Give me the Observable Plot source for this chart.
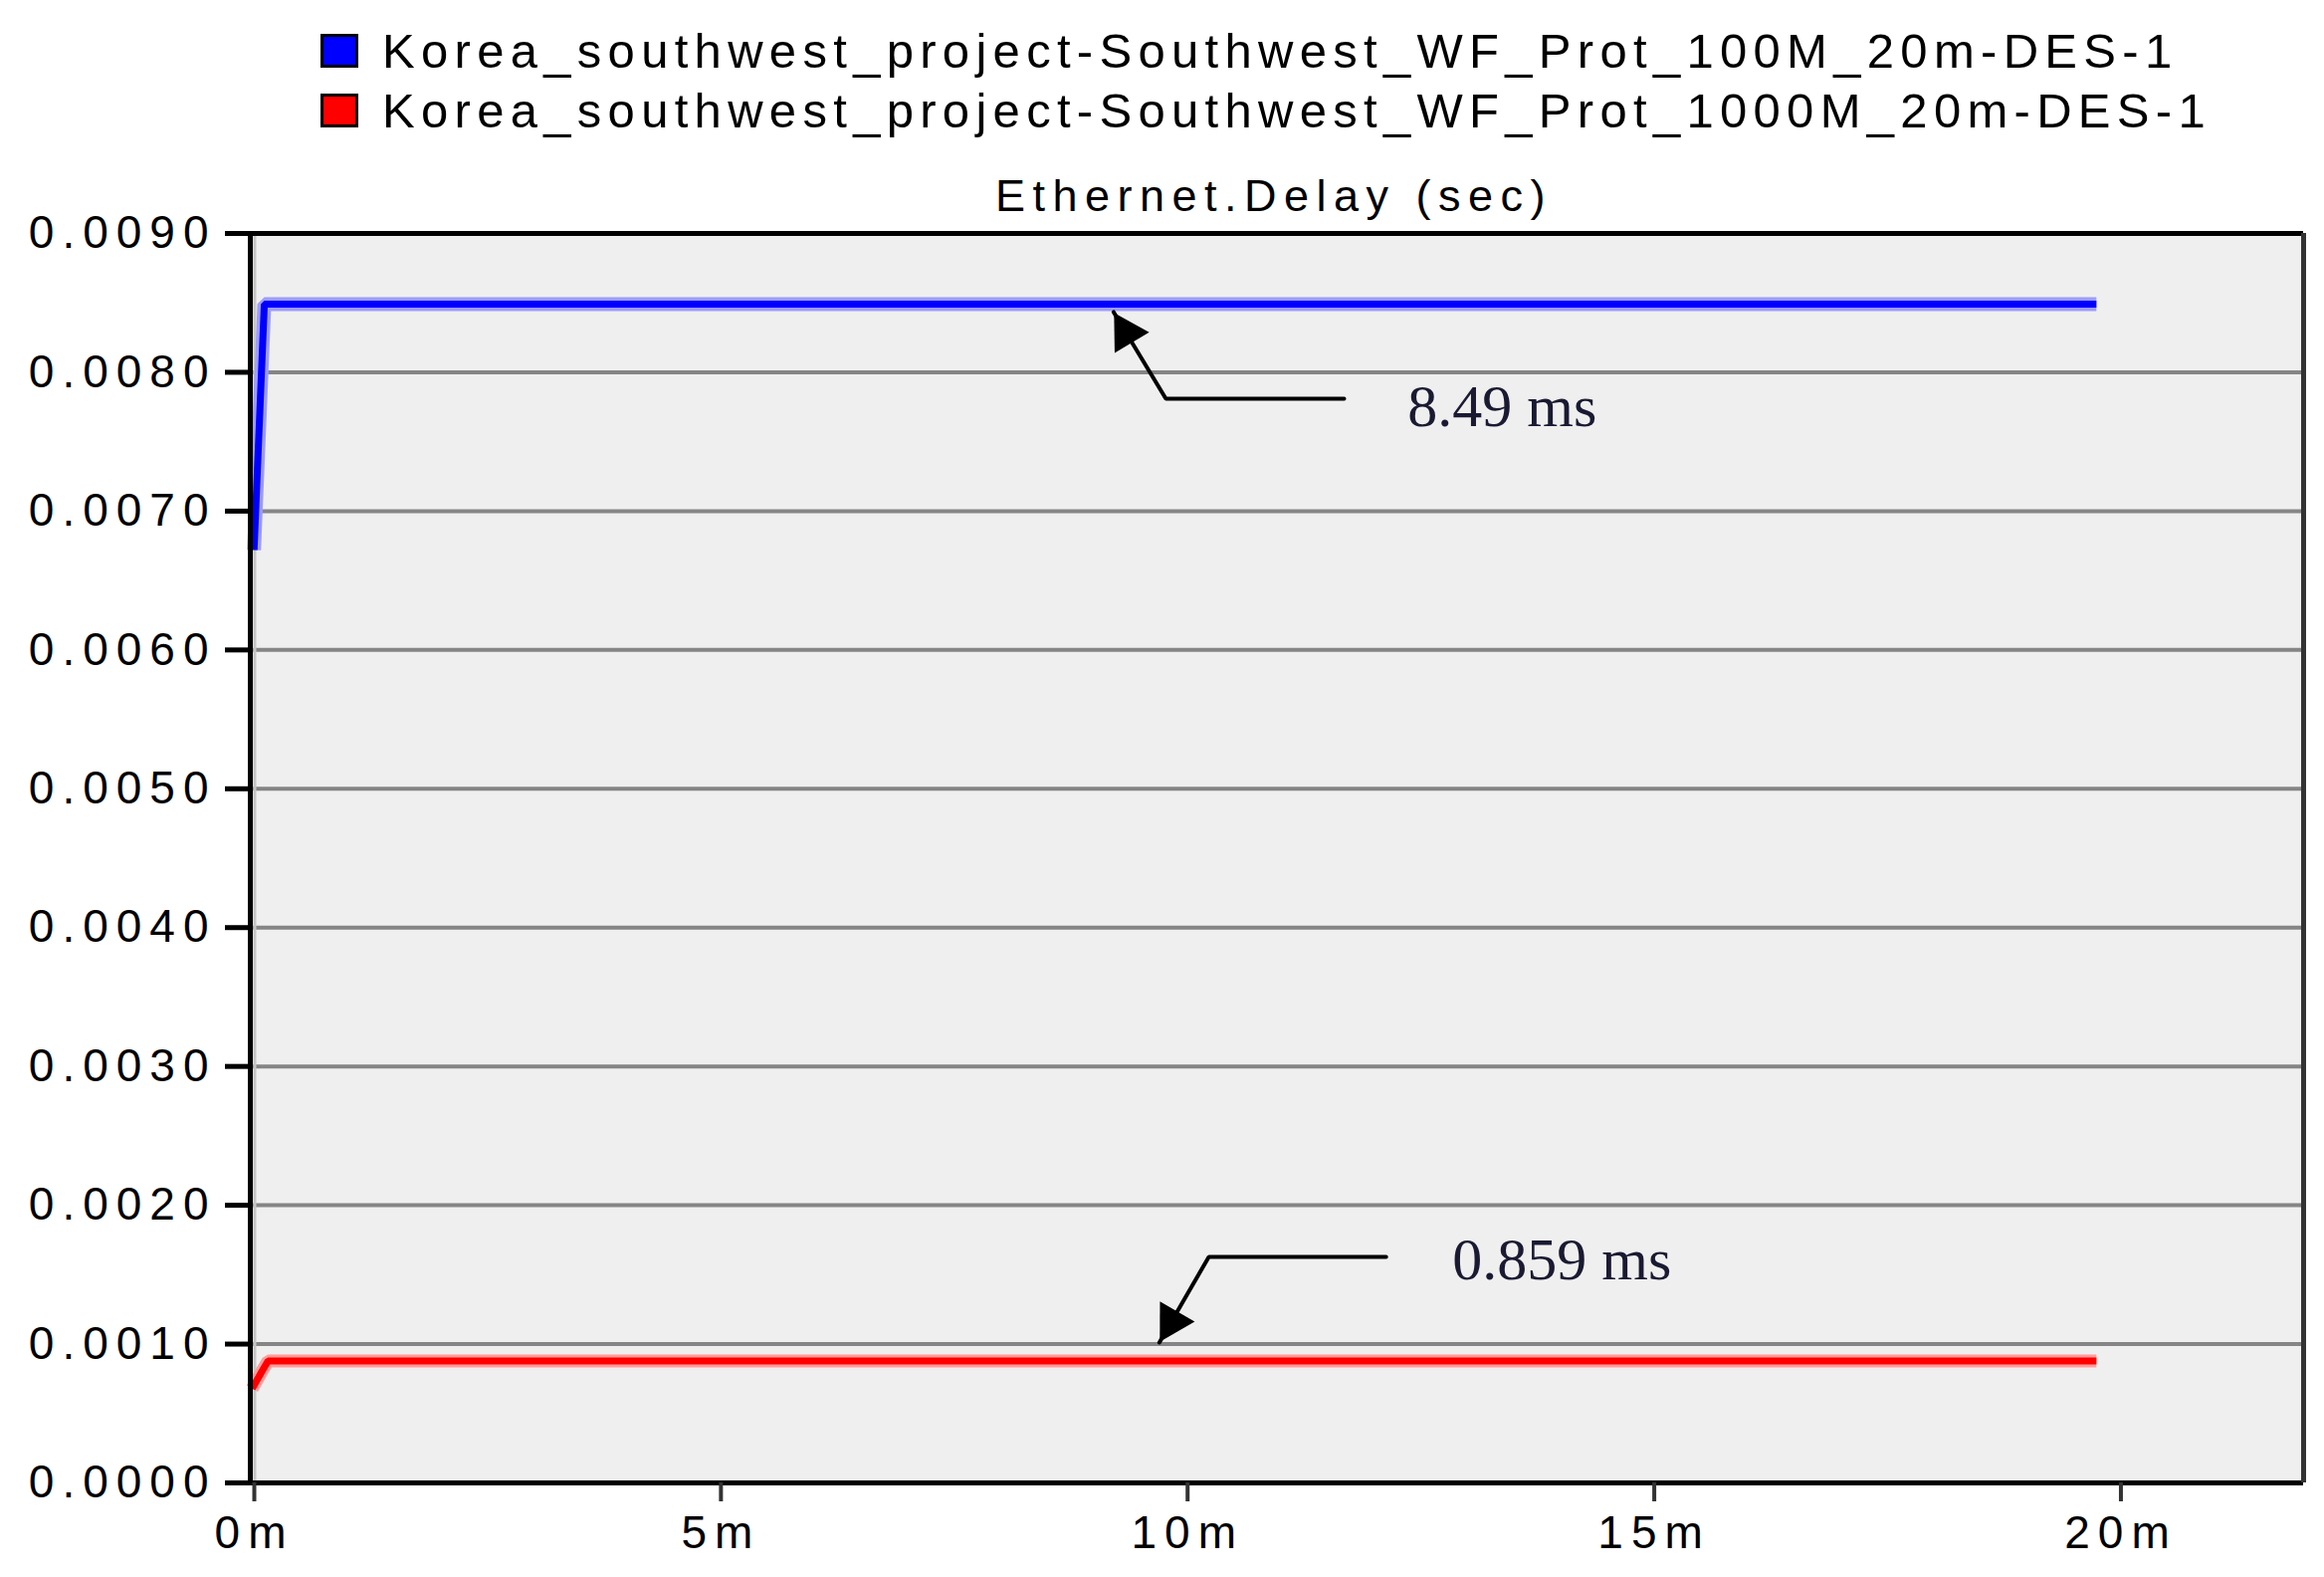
<!DOCTYPE html>
<html><head><meta charset="utf-8">
<script src="https://cdn.jsdelivr.net/npm/d3@7"></script>
<script src="https://cdn.jsdelivr.net/npm/@observablehq/plot@0.6"></script>
<style>
html,body{margin:0;padding:0;background:#fff;}
#wrap{width:2335px;height:1584px;position:relative;overflow:hidden;}
#legend{height:141px;box-sizing:border-box;padding-top:21px;font-family:"Liberation Sans",Arial,sans-serif;font-size:49px;letter-spacing:6.3px;color:#000;white-space:nowrap;}
.row{height:60px;display:flex;align-items:center;}
.sw{width:38px;height:34px;box-sizing:border-box;border:3px solid #000;margin-left:322px;margin-right:24px;flex:none;}
#chart svg text{letter-spacing:8px;}
#chart svg g[aria-label="text"] text{letter-spacing:0;}
</style></head>
<body><div id="wrap"><div id="legend"></div><div id="chart"></div></div>
<script>
// ---- data ----
const seriesNames = [
  "Korea_southwest_project-Southwest_WF_Prot_100M_20m-DES-1",
  "Korea_southwest_project-Southwest_WF_Prot_1000M_20m-DES-1"
];
const seriesColors = ["#0000ff", "#ff0000"];
const haloColors = ["#9c9cff", "#ff9c9c"];
const blueTime = [0.04, 0.15, 19.78];          // minutes
const blueDelay = [0.00672, 0.00849, 0.00849];  // seconds
const redTime = [0.02, 0.13, 0.19, 19.78];
const redDelay = [0.00068, 0.00081, 0.000878, 0.000878];
const xTicks = [0, 5, 10, 15, 20];
const xTickLabels = ["0m", "5m", "10m", "15m", "20m"];
const yTicks = [0, 0.001, 0.002, 0.003, 0.004, 0.005, 0.006, 0.007, 0.008, 0.009];
const yTickLabels = ["0.0000","0.0010","0.0020","0.0030","0.0040","0.0050","0.0060","0.0070","0.0080","0.0090"];
const chartTitle = "Ethernet.Delay (sec)";
const annotLabels = ["8.49 ms", "0.859 ms"];
const annotTextX = [12.40, 12.88];
const annotTextY = [0.007747, 0.001601];
const arrow1X = [9.25, 9.81, 11.72];
const arrow1Y = [0.008434, 0.00781, 0.00781];
const arrow2X = [12.17, 10.27, 9.74];
const arrow2Y = [0.001628, 0.001628, 0.001011];

// ---- legend ----
const legend = document.getElementById("legend");
seriesNames.forEach((name, i) => {
  const row = document.createElement("div");
  row.className = "row";
  const sw = document.createElement("span");
  sw.className = "sw";
  sw.style.background = seriesColors[i];
  const tx = document.createElement("span");
  tx.textContent = name;
  row.appendChild(sw); row.appendChild(tx);
  legend.appendChild(row);
});

// ---- chart ----
const blue = blueTime.map((t, i) => ({t, v: blueDelay[i]}));
const red = redTime.map((t, i) => ({t, v: redDelay[i]}));
const arrow1 = arrow1X.map((t, i) => ({t, v: arrow1Y[i]}));
const arrow2 = arrow2X.map((t, i) => ({t, v: arrow2Y[i]}));
const annots = annotLabels.map((s, i) => ({s, t: annotTextX[i], v: annotTextY[i]}));
const sans = "'Liberation Sans', Arial, sans-serif";
const serif = "'Liberation Serif', 'Times New Roman', serif";

const chart = Plot.plot({
  width: 2335,
  height: 1443,
  marginTop: 93,
  marginLeft: 251,
  marginRight: 21,
  marginBottom: 95,
  style: {fontFamily: sans, fontSize: "46px", color: "#000", background: "#fff"},
  x: {domain: [0, 22]},
  y: {domain: [0, 0.009]},
  marks: [
    Plot.frame({fill: "#efefef", stroke: "none"}),
    Plot.gridY(yTicks.slice(1, -1), {stroke: "#858585", strokeOpacity: 1, strokeWidth: 4}),
    Plot.ruleX([0], {dx: 4.5, stroke: "#c6c6c6", strokeWidth: 3}),
    Plot.line(blue, {x: "t", y: "v", stroke: haloColors[0], strokeWidth: 14, strokeLinecap: "butt", strokeLinejoin: "miter"}),
    Plot.line(blue, {x: "t", y: "v", stroke: seriesColors[0], strokeWidth: 7, strokeLinecap: "butt", strokeLinejoin: "miter"}),
    Plot.line(red, {x: "t", y: "v", stroke: haloColors[1], strokeWidth: 13, strokeLinecap: "butt", strokeLinejoin: "miter"}),
    Plot.line(red, {x: "t", y: "v", stroke: seriesColors[1], strokeWidth: 7, strokeLinecap: "butt", strokeLinejoin: "miter"}),
    // annotations
    Plot.line(arrow1, {x: "t", y: "v", stroke: "#000", strokeWidth: 4, strokeLinejoin: "miter"}),
    Plot.line(arrow2, {x: "t", y: "v", stroke: "#000", strokeWidth: 4, strokeLinejoin: "miter"}),
    Plot.dot([arrow1[0]], {x: "t", y: "v", symbol: "triangle", r: 15, fill: "#000", stroke: "none", rotate: -30.9, dx: 12.4, dy: 20.8}),
    Plot.dot([arrow2[2]], {x: "t", y: "v", symbol: "triangle", r: 15, fill: "#000", stroke: "none", rotate: -149.8, dx: 12.2, dy: -21.0}),
    Plot.text(annots, {x: "t", y: "v", text: "s", textAnchor: "start", lineAnchor: "middle", fontFamily: serif, fontSize: 60, fill: "#1a1a33"}),
    // title
    Plot.text([chartTitle], {text: d => d, frameAnchor: "top", lineAnchor: "middle", dy: -36.5, dx: -3, fontFamily: sans, fontSize: 45, fill: "#000"}),
    // frame
    Plot.ruleY([0.009], {stroke: "#000", strokeWidth: 5}),
    Plot.ruleY([0], {stroke: "#000", strokeWidth: 5}),
    Plot.ruleX([0], {stroke: "#000", strokeWidth: 5}),
    Plot.ruleX([22], {stroke: "#333", strokeWidth: 5}),
    // axes
    Plot.axisY(yTicks, {tickFormat: d => yTickLabels[yTicks.indexOf(d)], tickSize: 25, tickPadding: 9, stroke: "#000", strokeWidth: 5, label: null}),
    Plot.axisX(xTicks, {tickFormat: d => xTickLabels[xTicks.indexOf(d)], tickSize: 19, tickPadding: 14, stroke: "#333", strokeWidth: 4, dx: 4, label: null})
  ]
});
document.getElementById("chart").appendChild(chart);
d3.select(chart).selectAll("text").filter(function() { return this.textContent === chartTitle; }).style("letter-spacing", "7.5px");
</script>
</body></html>
